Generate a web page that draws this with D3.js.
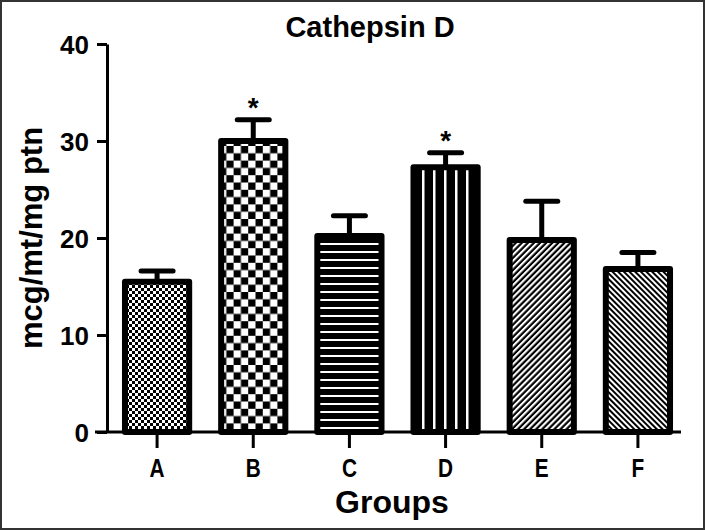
<!DOCTYPE html>
<html><head><meta charset="utf-8">
<script src="https://cdn.jsdelivr.net/npm/d3@7"></script>
<style>body{margin:0;background:#fff}svg{display:block}text{font-family:"Liberation Sans",Arial,sans-serif;font-weight:bold;fill:#000}</style>
</head><body>
<script>
const groups = ["A","B","C","D","E","F"];
const means = [15.5, 30.0, 20.2, 27.3, 19.8, 16.8];
const sems = [1.1, 2.2, 2.1, 1.5, 4.0, 1.7];
const significant = [false, true, false, true, false, false];
const yTicks = [0,10,20,30,40];
const patterns = ["checkSmall","checkLarge","horiz","vert","diagUp","diagDown"];

const W=705,H=530;
const svg=d3.select("body").append("svg").attr("width",W).attr("height",H);
const defs=svg.append("defs");
function pat(id,w,h,tf){const p=defs.append("pattern").attr("id",id).attr("patternUnits","userSpaceOnUse").attr("width",w).attr("height",h);if(tf)p.attr("patternTransform",tf);p.append("rect").attr("width",w).attr("height",h).attr("fill","#000");return p;}
let p=pat("checkSmall",6,6);p.append("rect").attr("width",3).attr("height",3).attr("fill","#fff");p.append("rect").attr("x",3).attr("y",3).attr("width",3).attr("height",3).attr("fill","#fff");
p=pat("checkLarge",14.6,14.6);p.append("rect").attr("width",7.3).attr("height",7.3).attr("fill","#fff");p.append("rect").attr("x",7.3).attr("y",7.3).attr("width",7.3).attr("height",7.3).attr("fill","#fff");
p=pat("horiz",10,8);p.append("rect").attr("y",3).attr("width",10).attr("height",2).attr("fill","#fff");
p=pat("vert",11,10);p.append("rect").attr("x",4).attr("width",2.5).attr("height",10).attr("fill","#fff");
p=pat("diagUp",10,4.3,"rotate(-45)");p.append("rect").attr("y",0).attr("width",10).attr("height",2.1).attr("fill","#fff");
p=pat("diagDown",10,4,"rotate(45)");p.append("rect").attr("y",0).attr("width",10).attr("height",2).attr("fill","#fff");

svg.append("rect").attr("x",1).attr("y",1).attr("width",W-2).attr("height",H-2).attr("fill","none").attr("stroke","#333").attr("stroke-width",2);

const y=d3.scaleLinear().domain([0,40]).range([432,44]);
const x=d3.scaleBand().domain(groups).range([109,686]).paddingInner(0.27).paddingOuter(0.135);
const bw=x.bandwidth();

const g=svg.append("g");
groups.forEach((k,i)=>{
  const x0=x(k)+3, top=y(means[i]);
  g.append("rect").attr("x",x0).attr("y",top).attr("width",bw-6).attr("height",y(0)-top)
   .attr("fill",`url(#${patterns[i]})`).attr("stroke","#000").attr("stroke-width",6).attr("stroke-linejoin","round");
  const cx=x(k)+bw/2, et=y(means[i]+sems[i]);
  g.append("line").attr("x1",cx).attr("x2",cx).attr("y1",top).attr("y2",et).attr("stroke","#000").attr("stroke-width",5);
  g.append("line").attr("x1",cx-16).attr("x2",cx+16).attr("y1",et).attr("y2",et).attr("stroke","#000").attr("stroke-width",5).attr("stroke-linecap","round");
  if(significant[i]) g.append("text").attr("x",cx).attr("y",et-3).attr("text-anchor","middle").attr("font-size",28).text("*");
});

const ya=svg.append("g").attr("transform","translate(107,0)").call(d3.axisLeft(y).tickValues(yTicks).tickSize(10).tickSizeOuter(0).tickPadding(8));
ya.selectAll("path,line").attr("stroke","#000").attr("stroke-width",3);
ya.selectAll("text").attr("font-size",26).attr("font-family",null).attr("dy","0.36em");
const xa=svg.append("g").attr("transform","translate(0,432)").call(d3.axisBottom(x).tickSize(16).tickSizeOuter(0).tickPadding(11));
xa.select(".domain").attr("d","M95,0H681");
xa.selectAll("path,line").attr("stroke","#000").attr("stroke-width",3);
xa.selectAll("text").attr("font-size",26).attr("font-family",null).attr("transform","scale(0.8,1)");

svg.append("text").attr("x",370).attr("y",37).attr("text-anchor","middle").attr("font-size",29).text("Cathepsin D");
svg.append("text").attr("x",392).attr("y",513).attr("text-anchor","middle").attr("font-size",32).text("Groups");
svg.append("text").attr("transform","translate(42,238) rotate(-90)").attr("text-anchor","middle").attr("font-size",31).text("mcg/mt/mg ptn");
</script>
</body></html>
